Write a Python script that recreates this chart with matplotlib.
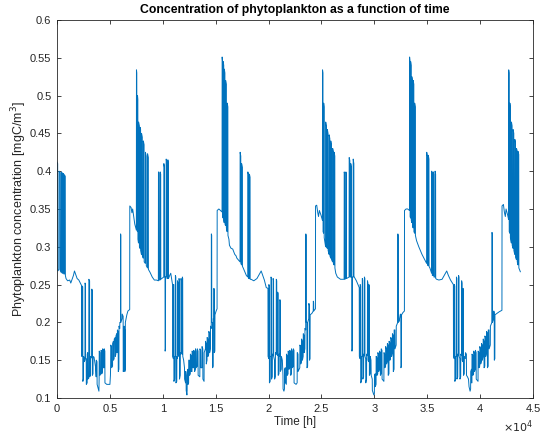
import matplotlib
matplotlib.use("Agg")
import matplotlib.pyplot as plt
from matplotlib.ticker import FuncFormatter, MultipleLocator

# readings: (time [h], concentration [mgC/m^3])
# year 1: opening spikes, summer baseline, winter low, spring rise, bloom
year1 = [
    (0, 0.412), (60, 0.41), (70, 0.268), (190, 0.27), (200, 0.40), (300, 0.398),
    (310, 0.268), (400, 0.266), (410, 0.399), (480, 0.398), (490, 0.265),
    (560, 0.265), (570, 0.397), (640, 0.396), (650, 0.264), (700, 0.264),
    (710, 0.395), (780, 0.393), (790, 0.262), (850, 0.258), (1000, 0.255),
    (1200, 0.256), (1300, 0.252), (1450, 0.258), (1550, 0.262), (1650, 0.268),
    (1700, 0.266), (1800, 0.262), (1900, 0.258), (2060, 0.256), (2310, 0.249),
    (2330, 0.155), (2380, 0.156), (2390, 0.248), (2430, 0.247), (2440, 0.122),
    (2500, 0.125), (2510, 0.155), (2560, 0.153), (2570, 0.148), (2640, 0.15),
    (2650, 0.252), (2690, 0.25), (2700, 0.152), (2760, 0.152), (2770, 0.118),
    (2850, 0.12), (2860, 0.158), (2900, 0.16), (2910, 0.125), (3000, 0.126),
    (3010, 0.257), (3080, 0.255), (3090, 0.128), (3160, 0.13), (3170, 0.155),
    (3280, 0.153), (3290, 0.244), (3330, 0.242), (3340, 0.13), (3400, 0.132),
    (3410, 0.155), (3500, 0.154), (3650, 0.14), (3700, 0.128), (3710, 0.15),
    (3780, 0.148), (3790, 0.118), (3900, 0.112), (3960, 0.109), (3980, 0.125),
    (3990, 0.162), (4050, 0.16), (4060, 0.13), (4150, 0.132), (4160, 0.163),
    (4220, 0.162), (4230, 0.132), (4300, 0.135), (4310, 0.165), (4380, 0.163),
    (4390, 0.14), (4450, 0.14), (4460, 0.165), (4520, 0.162), (4530, 0.12),
    (4700, 0.118), (5000, 0.118), (5050, 0.13), (5070, 0.145), (5080, 0.17),
    (5150, 0.168), (5160, 0.14), (5250, 0.142), (5260, 0.172), (5330, 0.175),
    (5340, 0.15), (5400, 0.152), (5410, 0.178), (5500, 0.18), (5510, 0.155),
    (5560, 0.158), (5570, 0.182), (5640, 0.185), (5650, 0.16), (5700, 0.16),
    (5710, 0.19), (5780, 0.188), (5790, 0.135), (5850, 0.138), (5860, 0.195),
    (5930, 0.192), (5940, 0.2), (6000, 0.2), (6010, 0.317), (6030, 0.315),
    (6040, 0.2), (6150, 0.205), (6160, 0.211), (6250, 0.208), (6260, 0.135),
    (6330, 0.14), (6340, 0.195), (6400, 0.19), (6410, 0.135), (6450, 0.138),
    (6460, 0.2), (6600, 0.21), (6700, 0.215), (6870, 0.217), (6880, 0.354),
    (7000, 0.352), (7080, 0.345), (7150, 0.35), (7250, 0.34), (7350, 0.33),
    (7450, 0.325), (7500, 0.322), (7510, 0.534), (7540, 0.53), (7550, 0.33),
    (7600, 0.32), (7610, 0.50), (7640, 0.495), (7650, 0.31), (7700, 0.305),
    (7710, 0.465), (7780, 0.46), (7790, 0.30), (7840, 0.298), (7850, 0.458),
    (7900, 0.455), (7910, 0.295), (7980, 0.29), (7990, 0.45), (8060, 0.445),
    (8070, 0.288), (8150, 0.285), (8160, 0.44), (8230, 0.435), (8240, 0.28),
    (8350, 0.278), (8360, 0.425), (8430, 0.42), (8440, 0.275), (8550, 0.272),
    (8560, 0.423), (8630, 0.418), (8640, 0.27), (8800, 0.266), (9000, 0.26),
    (9200, 0.256), (9400, 0.256), (9580, 0.255),
]

year2 = [
    (9590, 0.399), (9640, 0.397), (9650, 0.256), (9740, 0.256), (9750, 0.399),
    (9800, 0.396), (9810, 0.257), (10090, 0.26), (10100, 0.41), (10160, 0.405),
    (10170, 0.26), (10210, 0.26), (10220, 0.162), (10250, 0.165), (10260, 0.26),
    (10310, 0.26), (10320, 0.416), (10390, 0.41), (10400, 0.258), (10470, 0.258),
    (10480, 0.415), (10530, 0.41), (10540, 0.258), (10650, 0.262), (10750, 0.265),
    (10850, 0.256), (10920, 0.25), (10930, 0.155), (11000, 0.152), (11010, 0.25),
    (11040, 0.25), (11050, 0.122), (11120, 0.125), (11130, 0.155), (11180, 0.155),
    (11190, 0.262), (11230, 0.26), (11240, 0.12), (11320, 0.122), (11330, 0.155),
    (11380, 0.152), (11390, 0.255), (11440, 0.252), (11450, 0.158), (11520, 0.155),
    (11530, 0.258), (11570, 0.256), (11580, 0.125), (11650, 0.13), (11660, 0.16),
    (11710, 0.158), (11720, 0.258), (11760, 0.255), (11770, 0.16), (11840, 0.158),
    (11850, 0.26), (11880, 0.258), (11890, 0.155), (11970, 0.15), (12050, 0.14),
    (12060, 0.125), (12150, 0.12), (12160, 0.135), (12200, 0.13), (12210, 0.11),
    (12280, 0.104), (12300, 0.11), (12310, 0.135), (12380, 0.138), (12390, 0.118),
    (12440, 0.12), (12450, 0.15), (12520, 0.15), (12530, 0.13), (12600, 0.132),
    (12610, 0.158), (12680, 0.156), (12690, 0.135), (12760, 0.135), (12770, 0.162),
    (12840, 0.16), (12850, 0.14), (12920, 0.14), (12930, 0.163), (13000, 0.16),
    (13010, 0.135), (13080, 0.138), (13090, 0.165), (13150, 0.162), (13160, 0.14),
    (13250, 0.142), (13260, 0.165), (13330, 0.162), (13340, 0.13), (13500, 0.128),
    (13510, 0.165), (13580, 0.163), (13590, 0.14), (13700, 0.14), (13710, 0.168),
    (13780, 0.165), (13790, 0.125), (13900, 0.122), (13910, 0.16), (14030, 0.165),
    (14040, 0.175), (14100, 0.172), (14110, 0.145), (14180, 0.15), (14190, 0.18),
    (14260, 0.178), (14270, 0.155), (14340, 0.158), (14350, 0.188), (14420, 0.186),
    (14430, 0.16), (14500, 0.165), (14510, 0.195), (14580, 0.192), (14590, 0.317),
    (14620, 0.315), (14630, 0.2), (14700, 0.2), (14710, 0.14), (14760, 0.142),
    (14770, 0.205), (14820, 0.205), (14830, 0.245), (14860, 0.243), (14870, 0.16),
    (14920, 0.162), (14930, 0.21), (15040, 0.215), (15130, 0.218), (15140, 0.348),
    (15300, 0.35), (15450, 0.348), (15600, 0.346), (15610, 0.551), (15650, 0.545),
    (15660, 0.34), (15700, 0.338), (15710, 0.545), (15760, 0.54), (15770, 0.335),
    (15800, 0.332), (15810, 0.535), (15870, 0.53), (15880, 0.33), (15930, 0.328),
    (15940, 0.52), (16000, 0.515), (16010, 0.325), (16080, 0.32), (16090, 0.49),
    (16150, 0.485), (16160, 0.315), (16250, 0.31), (16300, 0.302), (16450, 0.298),
    (16610, 0.297), (16800, 0.29), (16925, 0.288), (17000, 0.285),
]

year3 = [
    (17240, 0.281), (17300, 0.28), (17310, 0.425), (17370, 0.42), (17380, 0.278),
    (17440, 0.276), (17450, 0.41), (17520, 0.405), (17530, 0.274), (17600, 0.272),
    (17720, 0.268), (17900, 0.262), (18030, 0.26), (18040, 0.399), (18090, 0.396),
    (18100, 0.258), (18180, 0.258), (18190, 0.396), (18250, 0.392), (18260, 0.257),
    (18350, 0.257), (18600, 0.255), (18900, 0.258), (19100, 0.263), (19300, 0.268),
    (19450, 0.262), (19600, 0.256), (19780, 0.246), (19940, 0.245), (19950, 0.155),
    (20020, 0.152), (20030, 0.25), (20070, 0.248), (20080, 0.12), (20150, 0.122),
    (20160, 0.155), (20220, 0.155), (20230, 0.26), (20270, 0.258), (20280, 0.125),
    (20350, 0.128), (20360, 0.158), (20420, 0.156), (20430, 0.258), (20470, 0.255),
    (20480, 0.155), (20560, 0.15), (20570, 0.125), (20640, 0.128), (20650, 0.16),
    (20720, 0.158), (20730, 0.257), (20770, 0.255), (20780, 0.158), (20850, 0.156),
    (20860, 0.24), (20900, 0.238), (20910, 0.13), (20980, 0.132), (20990, 0.158),
    (21060, 0.155), (21070, 0.23), (21100, 0.228), (21110, 0.135), (21200, 0.138),
    (21210, 0.155), (21300, 0.15), (21360, 0.13), (21370, 0.112), (21450, 0.109),
    (21500, 0.112), (21510, 0.138), (21580, 0.14), (21590, 0.12), (21680, 0.118),
    (21690, 0.158), (21760, 0.156), (21770, 0.13), (21840, 0.132), (21850, 0.162),
    (21920, 0.16), (21930, 0.138), (22000, 0.14), (22010, 0.163), (22080, 0.16),
    (22090, 0.13), (22160, 0.132), (22170, 0.165), (22240, 0.162), (22250, 0.14),
    (22330, 0.142), (22340, 0.165), (22400, 0.163), (22410, 0.12), (22600, 0.118),
    (22700, 0.12), (22710, 0.16), (22780, 0.158), (22790, 0.135), (22950, 0.14),
    (22960, 0.17), (23030, 0.168), (23040, 0.145), (23110, 0.148), (23120, 0.178),
    (23190, 0.175), (23200, 0.15), (23270, 0.155), (23280, 0.185), (23350, 0.183),
    (23360, 0.16), (23430, 0.165), (23440, 0.192), (23510, 0.19), (23520, 0.317),
    (23550, 0.315), (23560, 0.2), (23620, 0.2), (23630, 0.14), (23690, 0.142),
    (23700, 0.2), (23800, 0.205), (23810, 0.225), (23860, 0.222), (23870, 0.15),
    (23920, 0.152), (23930, 0.21), (24100, 0.212), (24220, 0.215), (24230, 0.228),
    (24260, 0.226), (24270, 0.215), (24430, 0.218), (24440, 0.354), (24550, 0.355),
    (24650, 0.345), (24720, 0.34), (24800, 0.348), (24950, 0.342), (25090, 0.335),
    (25100, 0.534), (25140, 0.53), (25150, 0.32), (25200, 0.318), (25210, 0.49),
    (25250, 0.485), (25260, 0.312), (25390, 0.30), (25400, 0.465), (25460, 0.46),
    (25470, 0.3), (25550, 0.298), (25560, 0.455), (25620, 0.45), (25630, 0.295),
    (25720, 0.29), (25730, 0.448), (25790, 0.443), (25800, 0.288), (25870, 0.285),
    (25880, 0.44), (25940, 0.435), (25950, 0.283), (26050, 0.28), (26060, 0.43),
    (26120, 0.426), (26130, 0.278), (26190, 0.276), (26200, 0.425), (26260, 0.42),
    (26270, 0.272), (26350, 0.265),
]

year4 = [
    (26500, 0.26), (26800, 0.257), (27140, 0.257), (27150, 0.399), (27200, 0.396),
    (27210, 0.257), (27300, 0.258), (27310, 0.399), (27360, 0.396), (27370, 0.258),
    (27610, 0.26), (27620, 0.418), (27680, 0.414), (27690, 0.26), (27760, 0.26),
    (27770, 0.41), (27830, 0.405), (27840, 0.26), (27870, 0.26), (27880, 0.162),
    (27910, 0.165), (27920, 0.26), (27990, 0.26), (28000, 0.416), (28060, 0.41),
    (28070, 0.26), (28100, 0.26), (28300, 0.255), (28570, 0.246), (28580, 0.155),
    (28650, 0.152), (28660, 0.25), (28700, 0.248), (28710, 0.12), (28780, 0.122),
    (28790, 0.155), (28850, 0.155), (28860, 0.258), (28900, 0.256), (28910, 0.125),
    (28980, 0.128), (28990, 0.158), (29050, 0.156), (29060, 0.26), (29100, 0.258),
    (29110, 0.155), (29180, 0.152), (29190, 0.12), (29260, 0.125), (29270, 0.158),
    (29340, 0.156), (29350, 0.255), (29390, 0.252), (29400, 0.15), (29470, 0.148),
    (29480, 0.25), (29520, 0.248), (29530, 0.13), (29600, 0.132), (29610, 0.155),
    (29680, 0.15), (29700, 0.13), (29800, 0.125), (29810, 0.11), (29950, 0.104),
    (30000, 0.106), (30010, 0.13), (30080, 0.132), (30090, 0.115), (30160, 0.118),
    (30170, 0.155), (30240, 0.153), (30250, 0.13), (30320, 0.132), (30330, 0.16),
    (30400, 0.158), (30410, 0.135), (30480, 0.138), (30490, 0.162), (30560, 0.16),
    (30570, 0.13), (30640, 0.132), (30650, 0.165), (30720, 0.163), (30730, 0.125),
    (30900, 0.122), (30910, 0.16), (30980, 0.158), (30990, 0.14), (31060, 0.142),
    (31070, 0.168), (31140, 0.165), (31150, 0.145), (31220, 0.148), (31230, 0.172),
    (31300, 0.17), (31310, 0.13), (31380, 0.132), (31390, 0.175), (31460, 0.173),
    (31470, 0.15), (31540, 0.155), (31550, 0.18), (31620, 0.178), (31630, 0.155),
    (31700, 0.16), (31710, 0.185), (31780, 0.183), (31790, 0.135), (31860, 0.138),
    (31870, 0.19), (31940, 0.19), (31950, 0.165), (32060, 0.17), (32070, 0.195),
    (32210, 0.2), (32220, 0.317), (32250, 0.315), (32260, 0.2), (32370, 0.202),
    (32380, 0.205), (32450, 0.21), (32460, 0.211), (32500, 0.21), (32510, 0.14),
    (32560, 0.142), (32570, 0.21), (32700, 0.213), (32840, 0.215), (32850, 0.348),
    (33000, 0.35), (33150, 0.35), (33320, 0.348), (33330, 0.551), (33370, 0.545),
    (33380, 0.34), (33420, 0.338), (33430, 0.545), (33480, 0.54), (33490, 0.335),
    (33530, 0.332), (33540, 0.525), (33600, 0.52), (33610, 0.328), (33660, 0.325),
    (33670, 0.52), (33730, 0.515), (33740, 0.32), (33800, 0.318), (33810, 0.49),
    (33870, 0.485), (33880, 0.315), (33990, 0.308), (34200, 0.3), (34500, 0.29),
    (34800, 0.282), (34940, 0.278),
]

year5 = [
    (34950, 0.425), (35010, 0.42), (35020, 0.276), (35090, 0.275), (35100, 0.421),
    (35160, 0.416), (35170, 0.274), (35250, 0.272), (35410, 0.265), (35420, 0.40),
    (35470, 0.397), (35480, 0.262), (35560, 0.262), (35570, 0.399), (35620, 0.396),
    (35630, 0.26), (35730, 0.26), (35740, 0.40), (35790, 0.396), (35800, 0.258),
    (35890, 0.257), (36100, 0.256), (36400, 0.257), (36600, 0.262), (36840, 0.268),
    (37000, 0.262), (37200, 0.256), (37470, 0.25), (37480, 0.155), (37550, 0.152),
    (37560, 0.25), (37600, 0.248), (37610, 0.122), (37680, 0.125), (37690, 0.155),
    (37750, 0.155), (37760, 0.26), (37800, 0.258), (37810, 0.125), (37880, 0.128),
    (37890, 0.158), (37950, 0.156), (37960, 0.262), (38000, 0.26), (38010, 0.155),
    (38080, 0.152), (38090, 0.125), (38160, 0.128), (38170, 0.158), (38240, 0.156),
    (38250, 0.255), (38290, 0.252), (38300, 0.15), (38370, 0.148), (38380, 0.245),
    (38420, 0.243), (38430, 0.13), (38500, 0.132), (38510, 0.155), (38600, 0.152),
    (38610, 0.16), (38700, 0.158), (38710, 0.13), (38800, 0.128), (38900, 0.125),
    (38950, 0.115), (39050, 0.109), (39100, 0.112), (39110, 0.135), (39180, 0.138),
    (39190, 0.12), (39220, 0.12), (39230, 0.158), (39300, 0.156), (39310, 0.13),
    (39380, 0.132), (39390, 0.162), (39460, 0.16), (39470, 0.135), (39540, 0.138),
    (39550, 0.163), (39620, 0.16), (39630, 0.125), (39800, 0.122), (39810, 0.162),
    (39880, 0.16), (39890, 0.14), (39960, 0.142), (39970, 0.168), (40040, 0.165),
    (40050, 0.145), (40120, 0.148), (40130, 0.172), (40200, 0.17), (40210, 0.15),
    (40280, 0.155), (40290, 0.178), (40360, 0.175), (40370, 0.14), (40440, 0.142),
    (40450, 0.182), (40520, 0.18), (40530, 0.155), (40600, 0.16), (40610, 0.188),
    (40680, 0.186), (40690, 0.14), (40760, 0.142), (40770, 0.19), (40840, 0.19),
    (40850, 0.165), (40960, 0.17), (40970, 0.195), (41110, 0.2), (41120, 0.319),
    (41150, 0.317), (41160, 0.2), (41280, 0.205), (41290, 0.215), (41330, 0.213),
    (41340, 0.15), (41390, 0.152), (41400, 0.21), (41600, 0.212), (41800, 0.214),
    (42060, 0.216), (42070, 0.354), (42200, 0.356), (42300, 0.345), (42380, 0.34),
    (42450, 0.35), (42600, 0.342), (42690, 0.336), (42700, 0.534), (42740, 0.53),
    (42750, 0.32), (42800, 0.318), (42810, 0.49), (42850, 0.485), (42860, 0.312),
    (42950, 0.305), (42960, 0.465), (43020, 0.46), (43030, 0.302), (43110, 0.298),
    (43120, 0.455), (43180, 0.45), (43190, 0.295), (43270, 0.29), (43280, 0.442),
    (43340, 0.438), (43350, 0.286), (43430, 0.283), (43440, 0.43), (43500, 0.427),
    (43510, 0.28), (43580, 0.276), (43590, 0.426), (43650, 0.422), (43660, 0.272),
    (43800, 0.267),
]

series = year1 + year2 + year3 + year4 + year5
time_h = [p[0] for p in series]
conc = [p[1] for p in series]

plt.rcParams['font.family'] = ['Liberation Sans', 'DejaVu Sans']

fig = plt.figure(figsize=(5.4, 4.36), dpi=100)
ax = fig.add_axes([0.1056, 0.0872, 0.8815, 0.8670])

ax.plot(time_h, conc, color='#0072BD', lw=0.7)

ax.set_xlim(0, 45000)
ax.set_ylim(0.1, 0.6)
ax.xaxis.set_major_locator(MultipleLocator(5000))
ax.yaxis.set_major_locator(MultipleLocator(0.05))
ax.xaxis.set_major_formatter(FuncFormatter(lambda v, p: '%g' % (v / 1e4)))
ax.yaxis.set_major_formatter(FuncFormatter(lambda v, p: '%g' % round(v, 2)))

axis_col = '#262626'
ax.tick_params(direction='in', top=True, right=True, length=3, width=0.6,
               labelsize=8, colors=axis_col, pad=4)
for s in ax.spines.values():
    s.set_color(axis_col)
    s.set_linewidth(0.6)

# exponent label under the right end of the x axis, as MATLAB draws it
ax.text(1.0, -0.088, r'$\times10^4$', transform=ax.transAxes, ha='right',
        va='baseline', fontsize=8, color=axis_col)

ax.set_title('Concentration of phytoplankton as a function of time',
             fontsize=8.8, fontweight='bold', pad=5)
ax.set_xlabel('Time [h]', fontsize=8.5, color=axis_col, labelpad=2)
ax.set_ylabel(r'Phytoplankton concentration [mgC/m$^3$]', fontsize=9,
              color=axis_col, labelpad=1)

fig.savefig('out.png', dpi=100)
